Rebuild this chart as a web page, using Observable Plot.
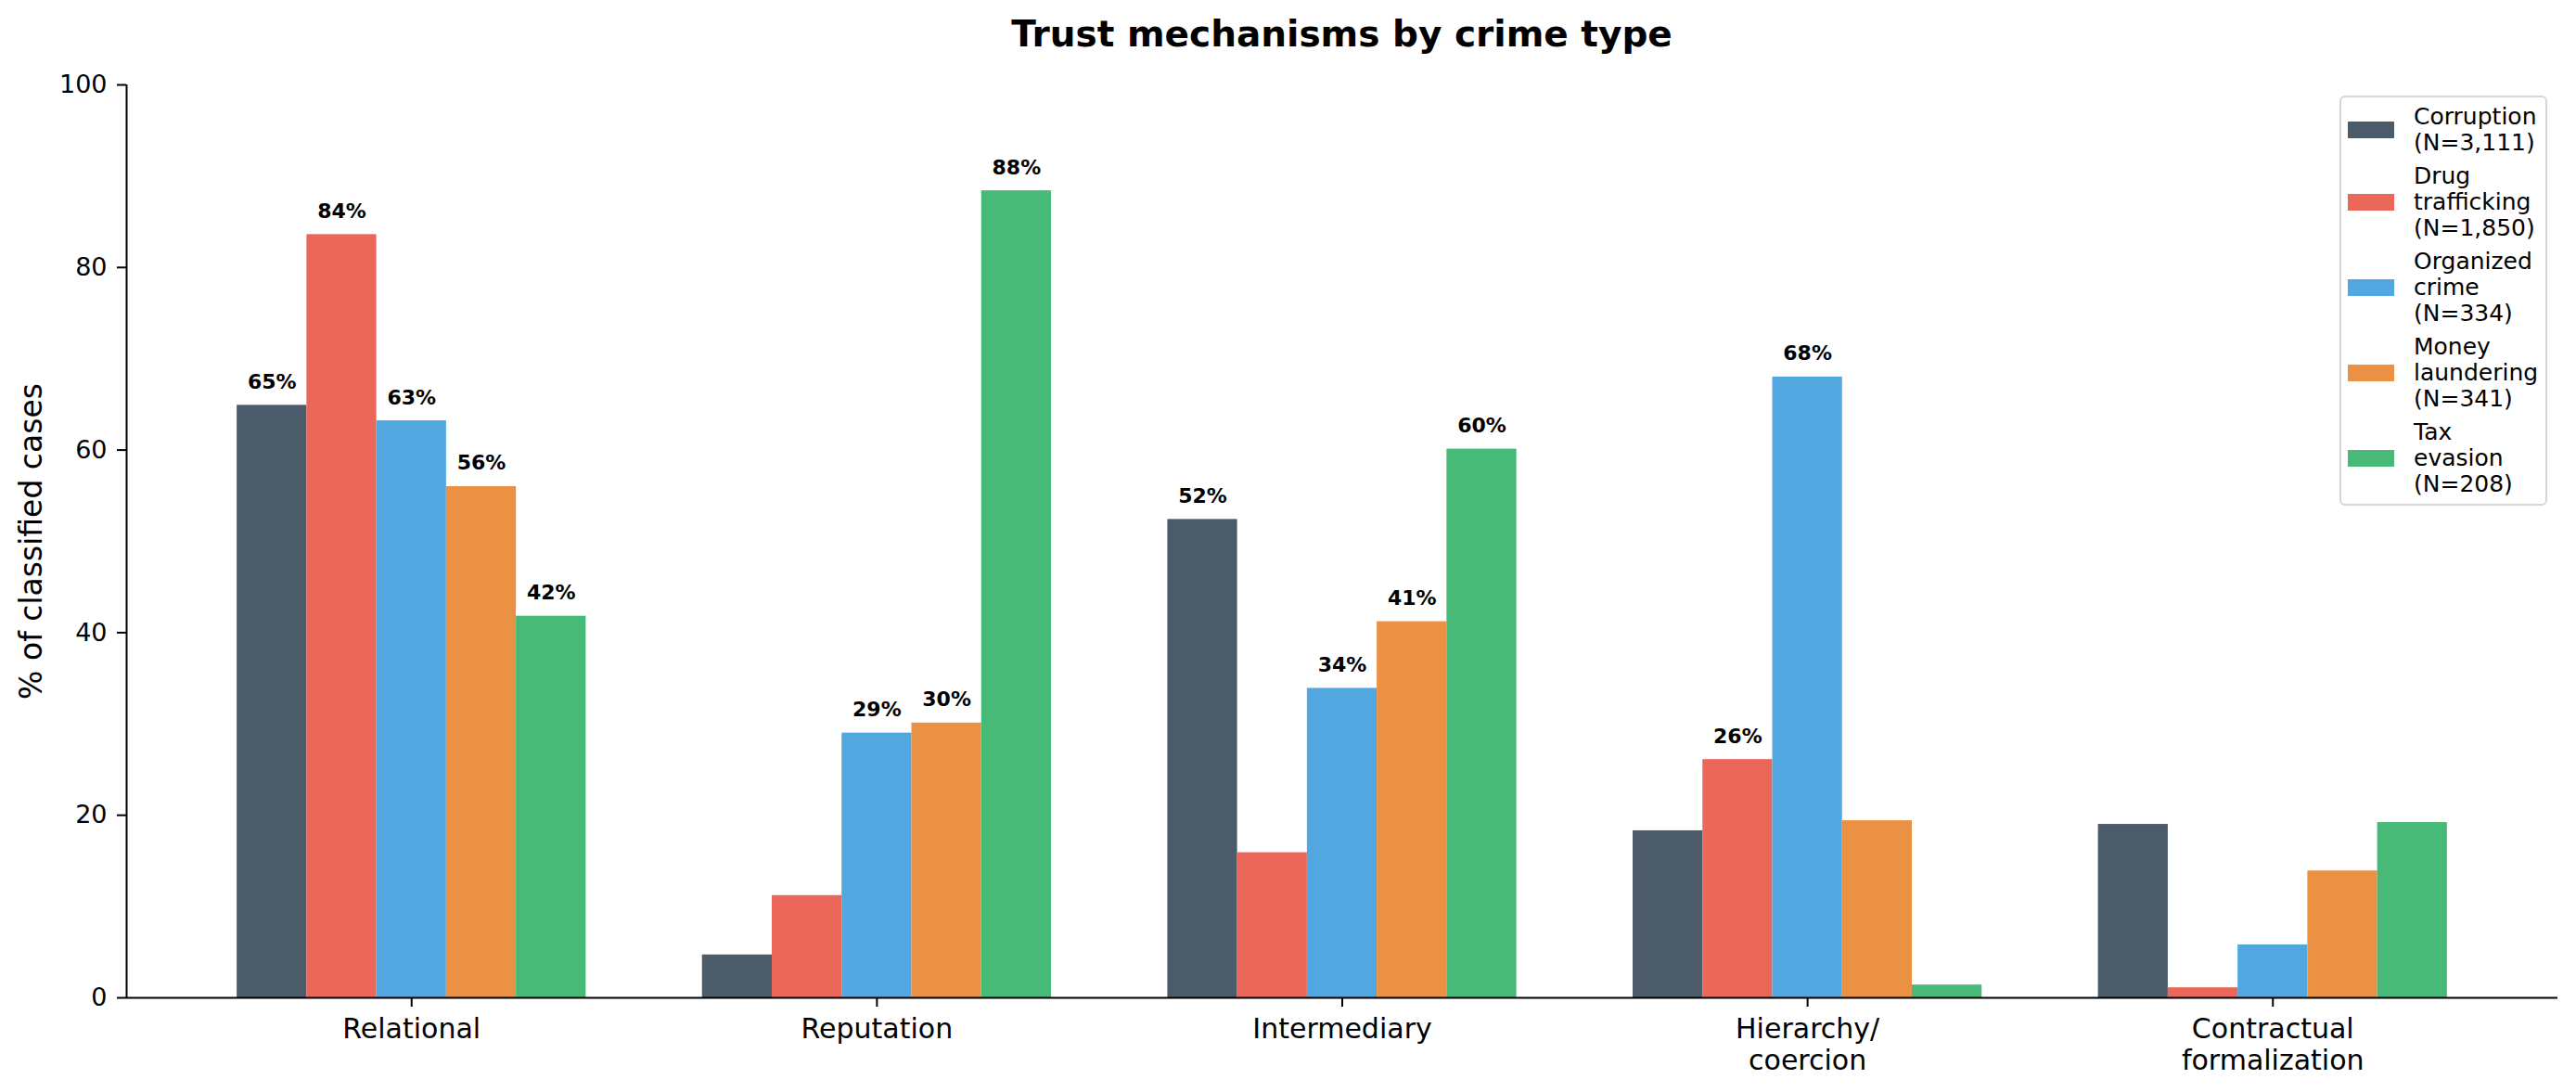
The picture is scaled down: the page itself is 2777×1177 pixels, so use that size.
<!DOCTYPE html>
<html>
<head>
<meta charset="utf-8">
<script src="https://cdn.jsdelivr.net/npm/d3@7"></script>
<script src="https://cdn.jsdelivr.net/npm/@observablehq/plot@0.6"></script>
<style>
  body { margin: 0; background: #fff; font-family: "DejaVu Sans", sans-serif; }
  #wrap { position: relative; width: 2777px; height: 1177px; overflow: hidden; }
  #title { box-sizing: border-box; height: 70px; padding-top: 17px; margin-left: 136px; width: 2621px;
           text-align: center; font-weight: bold; font-size: 39px; line-height: 39px; color: #000; }
  #legend { position: absolute; left: 2522px; top: 103px; width: 224px; box-sizing: border-box;
            border: 2px solid #d6d6d6; border-radius: 6px; padding: 7px 0 7px 7px; background: rgba(255,255,255,0.8); }
  .row { display: flex; align-items: center; margin: 0 0 8px 0; }
  .row:last-child { margin-bottom: 0; }
  .sw { width: 50px; height: 18px; flex: none; }
  .lab { margin-left: 21px; font-size: 25px; line-height: 28px; white-space: pre-line; color: #000; }
</style>
</head>
<body>
<div id="wrap">
  <div id="title"></div>
  <div id="chart"></div>
  <div id="legend"></div>
</div>
<script>
// ---- data ----
const titleText = "Trust mechanisms by crime type";
const yLabel = "% of classified cases";
const categories = ["Relational", "Reputation", "Intermediary", "Hierarchy/\ncoercion", "Contractual\nformalization"];
const seriesNames = ["Corruption", "Drug trafficking", "Organized crime", "Money laundering", "Tax evasion"];
const seriesLegend = ["Corruption\n(N=3,111)", "Drug\ntrafficking\n(N=1,850)", "Organized\ncrime\n(N=334)", "Money\nlaundering\n(N=341)", "Tax\nevasion\n(N=208)"];
const seriesColors = ["#4c5b6a", "#ea6759", "#53a7e1", "#ea9143", "#48ba78"];
const corruption = [64.9, 4.7, 52.4, 18.3, 19.0];
const drugTrafficking = [83.6, 11.2, 15.9, 26.1, 1.1];
const organizedCrime = [63.2, 29.0, 33.9, 68.0, 5.8];
const moneyLaundering = [56.0, 30.1, 41.2, 19.4, 13.9];
const taxEvasion = [41.8, 88.4, 60.1, 1.4, 19.2];
const yTicks = [0, 20, 40, 60, 80, 100];
const labelThreshold = 20;

// ---- build ----
const seriesValues = [corruption, drugTrafficking, organizedCrime, moneyLaundering, taxEvasion];
const rows = [];
seriesValues.forEach((vals, j) => vals.forEach((v, i) => rows.push({cat: i, ser: j, name: seriesNames[j], v})));

const barW = 0.15;
const nS = seriesNames.length;
const center = d => d.cat + (d.ser - (nS - 1) / 2) * barW;
const lo = -(nS * barW) / 2 - 0.05 * (categories.length - 1 + nS * barW);
const hi = categories.length - 1 - lo;

document.getElementById("title").textContent = titleText;

const plot = Plot.plot({
  width: 2777,
  height: 1107,
  marginLeft: 136,
  marginRight: 20,
  marginTop: 21,
  marginBottom: 102,
  style: {fontFamily: "DejaVu Sans", background: "white", color: "black", overflow: "visible"},
  x: {domain: [lo, hi], axis: null},
  y: {domain: [0, 100], axis: null},
  color: {domain: seriesNames, range: seriesColors},
  marks: [
    Plot.rect(rows, {x1: d => center(d) - barW / 2, x2: d => center(d) + barW / 2, y1: 0, y2: "v", fill: "name"}),
    Plot.ruleY([0], {stroke: "black", strokeWidth: 2}),
    Plot.ruleX([lo], {stroke: "black", strokeWidth: 2}),
    Plot.axisY({ticks: yTicks, tickSize: 10, tickPadding: 11, fontSize: 27, label: null, strokeWidth: 2}),
    Plot.axisX({ticks: categories.map((c, i) => i), tickFormat: i => categories[i], tickSize: 10, tickPadding: 9,
                fontSize: 30, lineHeight: 1.15, label: null, strokeWidth: 2}),
    Plot.text(rows.filter(d => d.v >= labelThreshold), {
      x: center, y: "v", text: d => Math.round(d.v) + "%", dy: -18, lineAnchor: "bottom",
      fontWeight: "bold", fontSize: 22, fill: "black"
    }),
    Plot.text([yLabel], {frameAnchor: "left", dx: -102, rotate: -90, fontSize: 33, fill: "black",
                         textAnchor: "middle", lineAnchor: "middle"})
  ]
});
document.getElementById("chart").appendChild(plot);

const legend = document.getElementById("legend");
seriesLegend.forEach((s, j) => {
  const row = document.createElement("div");
  row.className = "row";
  const sw = document.createElement("div");
  sw.className = "sw";
  sw.style.background = seriesColors[j];
  const lab = document.createElement("div");
  lab.className = "lab";
  lab.textContent = s;
  row.appendChild(sw);
  row.appendChild(lab);
  legend.appendChild(row);
});
</script>
</body>
</html>
